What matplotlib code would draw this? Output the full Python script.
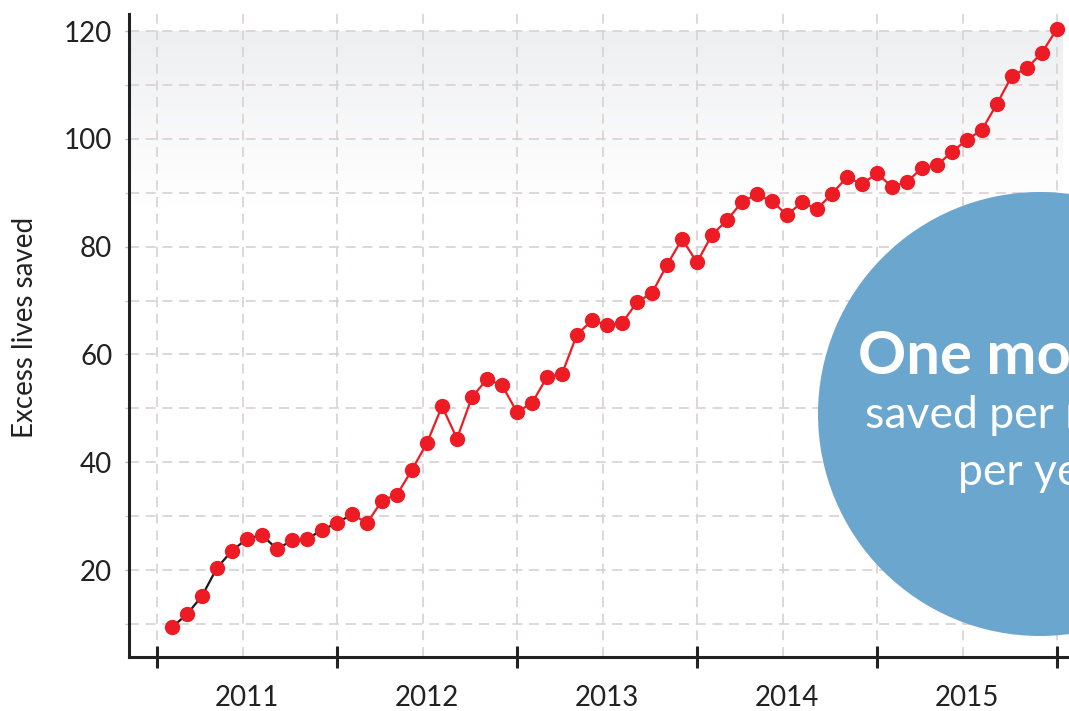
import numpy as np
import matplotlib
matplotlib.use("Agg")
import matplotlib.pyplot as plt
from matplotlib.patches import Ellipse

plt.rcParams['font.family'] = ['Lato', 'DejaVu Sans']

# ---- data (monthly, Jan 2011 .. Dec 2015; x = month index at month end) ----
years = ["2011", "2012", "2013", "2014", "2015"]
lives_saved = [
    9.4, 11.8, 15.2, 20.4, 23.6, 25.8, 26.5, 23.9, 25.5, 25.7, 27.5, 28.7,
    30.4, 28.7, 32.9, 34.0, 38.6, 43.6, 50.4, 44.4, 52.1, 55.4, 54.3, 49.3,
    51.0, 55.8, 56.4, 63.7, 66.3, 65.5, 65.8, 69.7, 71.4, 76.6, 81.4, 77.1,
    82.2, 84.9, 88.3, 89.7, 88.4, 85.9, 88.2, 87.0, 89.8, 92.9, 91.6, 93.6,
    91.1, 92.0, 94.6, 95.1, 97.6, 99.8, 101.7, 106.5, 111.7, 113.1, 116.0, 120.4,
]
n_baseline = 13  # first points joined by the black line
months = np.arange(1, len(lives_saved) + 1)

circle_lines = ["One more life", "saved per million", "per year"]

W, H = 1069, 711
fig = plt.figure(figsize=(W / 100, H / 100), dpi=100)

# axes in pixel geometry (extends beyond right edge)
ax_left, ax_right, ax_top, ax_bottom = 129, 1129, 14, 657
ax = fig.add_axes([ax_left / W, 1 - ax_bottom / H,
                   (ax_right - ax_left) / W, (ax_bottom - ax_top) / H])

px_per_month = 15.0
x0_px = 157.0
xmin = (ax_left - x0_px) / px_per_month
xmax = (ax_right - x0_px) / px_per_month

py_per_unit = 5.39
ymin = 10 - (ax_bottom - 624) / py_per_unit
ymax = 120 + (31 - ax_top) / py_per_unit

plot_right = (1062 - x0_px) / px_per_month

# gradient band at top
grad = np.linspace(0, 1, 256).reshape(-1, 1)
top_col = np.array([238, 239, 241]) / 255.0
img = np.zeros((256, 1, 3))
for i in range(3):
    img[:, 0, i] = top_col[i] + (1 - top_col[i]) * grad[:, 0]
ax.imshow(img, extent=[xmin, plot_right, 88, 120], origin='upper',
          aspect='auto', zorder=0, interpolation='bilinear')
ax.set_xlim(xmin, xmax)
ax.set_ylim(ymin, ymax)

grid_col = '#d9d1d1'
dash = (0, (6, 4))
# horizontal grid
for v in range(10, 121, 10):
    ax.plot([xmin, plot_right], [v, v], color=grid_col, lw=1.2,
            linestyle=dash, zorder=1)
# vertical grid
vgrid = [12 * k for k in range(6)] + [12 * k + 5.7 for k in range(5)]
for xv in vgrid:
    ax.axvline(xv, color=grid_col, lw=1.2, linestyle=dash, zorder=1)

# lines
ax.plot(months[:n_baseline], lives_saved[:n_baseline], color='#1a1a1a',
        lw=1.6, zorder=3)
ax.plot(months[n_baseline - 1:], lives_saved[n_baseline - 1:],
        color='#ed1c24', lw=1.6, zorder=3)
ax.plot(months, lives_saved, linestyle='none', marker='o', markersize=10,
        markerfacecolor='#ed1c24', markeredgecolor='#ed1c24', zorder=4)

# spines
for s in ['top', 'right']:
    ax.spines[s].set_visible(False)
for s in ['left', 'bottom']:
    ax.spines[s].set_linewidth(2.2)
    ax.spines[s].set_color('#222222')

# y ticks
ax.set_yticks([20, 40, 60, 80, 100, 120])
ax.set_yticks(list(range(10, 121, 10)), minor=True)
ax.tick_params(axis='y', which='major', length=3, width=1, color='#bbbbbb',
               labelsize=20, pad=9, labelcolor='#222222')
ax.tick_params(axis='y', which='minor', length=3, width=1, color='#cccccc')

# x ticks: year boundaries (marks) and mid-year labels
ax.set_xticks([0, 12, 24, 36, 48, 60])
ax.set_xticklabels([])
ax.set_xticks([6, 18, 30, 42, 54], minor=True)
ax.set_xticklabels(years, minor=True)
ax.tick_params(axis='x', which='major', direction='inout', length=16,
               width=2.2, color='#222222')
ax.tick_params(axis='x', which='minor', length=0, labelsize=20, pad=20,
               labelcolor='#222222')

ax.set_facecolor('white')

fig.text(25 / W, 1 - 327 / H, "Excess lives saved", rotation=90,
         ha='center', va='center', fontsize=20, color='#222222')

# circle annotation (cut by the right edge, as in the original)
cx, cy, r = 1040, 414, 222
circ = Ellipse((cx / W, 1 - cy / H), 2 * r / W, 2 * r / H,
               transform=fig.transFigure, facecolor='#6aa6cd',
               edgecolor='none', zorder=10)
fig.add_artist(circ)
fig.text(858 / W, 1 - 374 / H, circle_lines[0], ha='left', va='baseline',
         fontsize=43, fontweight='bold', color='white', zorder=11)
fig.text(865 / W, 1 - 428 / H, circle_lines[1], ha='left', va='baseline',
         fontsize=32, color='white', zorder=11)
fig.text(958 / W, 1 - 485 / H, circle_lines[2], ha='left', va='baseline',
         fontsize=32, color='white', zorder=11)

fig.savefig('out.png', dpi=100)
